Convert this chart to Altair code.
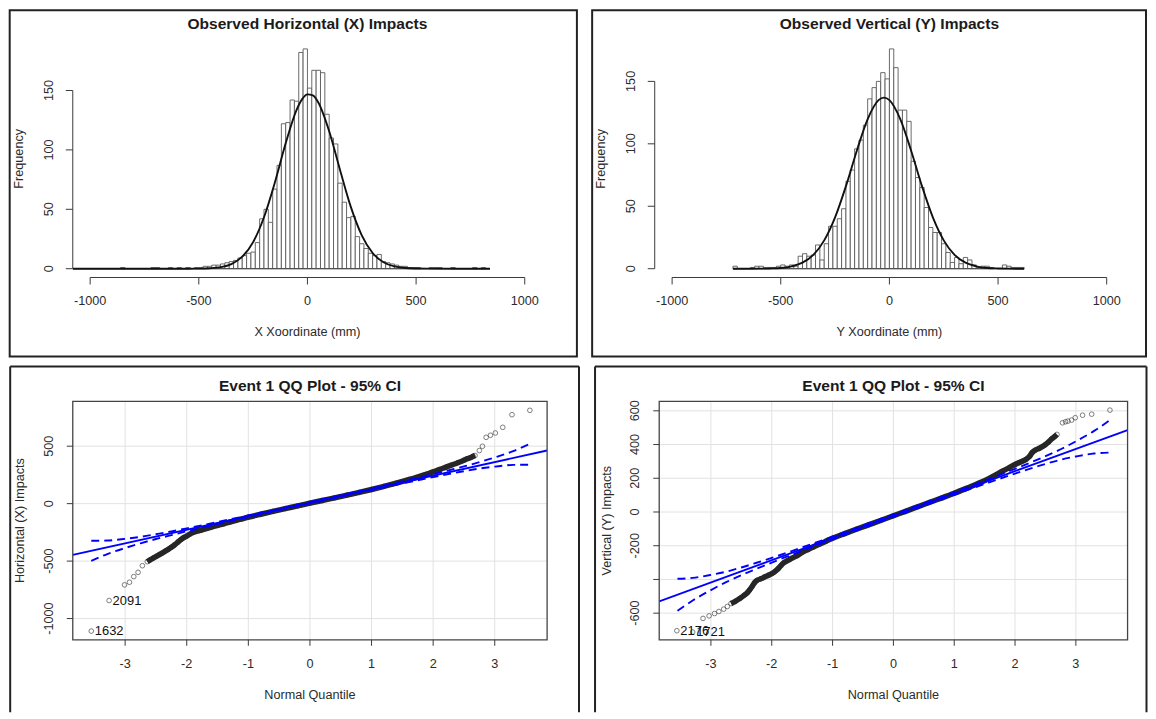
import altair as alt
import pandas as pd

FONT = "Liberation Sans"
INK = "#1b1b1b"
LAB = "#2b2b2b"
AX = "#3a3a3a"
GRID = "#e2e2e2"
BLUE = "#0000ff"

# ---------------- histogram data: 20 mm bins (bin start -> count) ----------------
x_bin_start = ([-1120, -860, -720, -700, -640, -600, -560, -520]
               + list(range(-500, 520, 20))
               + [560, 580, 600, 660, 760, 800])
x_count = ([1, 1, 1, 1, 1, 1, 1, 1]
           + [1, 2, 2, 3, 3, 4, 5, 6, 7, 9, 11, 13, 14, 22, 42, 50, 39, 67, 87,
              122, 123, 142, 141, 182, 185]
           + [152, 167, 167, 165, 130, 110, 105, 72, 56, 43, 44, 27, 21, 17, 13,
              11, 12, 6, 5, 4, 3, 2, 2, 1, 1, 1]
           + [1, 1, 1, 1, 1, 1])
x_range = [-1120, 840]

y_bin_start = ([-720, -640, -620, -600, -580, -560, -540, -520, -500, -480, -460]
               + list(range(-440, 480, 20))
               + [520, 540, 560, 580, 600])
y_count = ([2, 1, 2, 2, 1, 1, 1, 2, 3, 2, 3]
           + [2, 10, 12, 10, 11, 19, 7, 20, 34, 34, 40, 48, 70, 79, 96, 103, 115,
              136, 145, 150, 157, 152]
           + [176, 161, 127, 127, 118, 86, 73, 65, 49, 33, 29, 29, 20, 13, 5, 9, 4,
              9, 7, 3, 1, 2, 2, 1]
           + [3, 2, 1, 1, 1])
y_range = [-720, 620]
bin_width = 20

# fitted normal curves
x_curve_x = [-1080, -700, -550, -500, -450, -400, -350, -300, -250, -200, -150, -100,
             -50, -25, 0, 25, 50, 100, 150, 200, 250, 300, 350, 400, 450, 500, 550, 700, 840]
x_curve_y = [0, 0, 0.02, 0.1, 0.4, 1.3, 3.9, 10.1, 22.4, 43.3, 72.6, 105.7, 133.7, 142.5,
             146.7, 145.8, 139.9, 115.7, 83.1, 51.8, 28.1, 13.2, 5.4, 1.9, 0.6, 0.16, 0.03, 0, 0]
y_curve_x = [-720, -650, -600, -550, -500, -450, -400, -350, -300, -250, -200, -150, -100,
             -50, -25, 0, 50, 100, 150, 200, 250, 300, 350, 400, 450, 500, 550, 620]
y_curve_y = [0, 0, 0.05, 0.2, 0.6, 1.9, 4.8, 11.1, 22.7, 41.1, 66.1, 94.5, 119.8, 135.0,
             137.0, 135.0, 119.8, 94.5, 66.1, 41.1, 22.7, 11.1, 4.8, 1.9, 0.6, 0.2, 0.05, 0]

hist_xticks = [-1000, -500, 0, 500, 1000]
hist_xlabels = ["-1000", "-500", "0", "500", "1000"]
hist_yticks = [0, 50, 100, 150]
hist_ylabels = ["0", "50", "100", "150"]

# ---------------- QQ data ----------------
qq_xticks = [-3, -2, -1, 0, 1, 2, 3]
qq_xlabels = ["-3", "-2", "-1", "0", "1", "2", "3"]

qx_band_q = [-2.64, -2.60, -2.55, -2.50, -2.45, -2.40, -2.35, -2.30, -2.25, -2.20, -2.15,
             -2.10, -2.05, -2.00, -1.95, -1.90, -1.80, -1.70, -1.60, -1.50, -1.40, -1.30,
             -1.20, -1.10, -1.00, -0.80, -0.60, -0.40, -0.20, 0.00, 0.20, 0.40, 0.60, 0.80,
             1.00, 1.20, 1.40, 1.60, 1.80, 1.90, 2.00, 2.10, 2.20, 2.30, 2.40, 2.50, 2.55,
             2.60, 2.65, 2.68]
qx_band_v = [-505, -491, -476, -460, -445, -430, -414, -398, -380, -360, -338, -315, -296,
             -282, -266, -252, -235, -220, -205, -190, -175, -160, -146, -132, -118, -92,
             -67, -43, -20, 4, 27, 50, 74, 98, 123, 150, 178, 208, 240, 258, 276, 296, 316,
             336, 356, 378, 390, 399, 412, 419]
qx_out_q = [-3.55, -3.26, -3.01, -2.93, -2.86, -2.79, -2.72, 2.75, 2.80, 2.86, 2.93, 3.01,
            3.13, 3.28, 3.57]
qx_out_v = [-1109, -843, -707, -684, -635, -598, -540, 462, 499, 577, 595, 615, 664, 774, 812]
qx_lab_q = [-3.55, -3.26]
qx_lab_v = [-1109, -843]
qx_lab_t = ["1632", "2091"]
qx_fit_q = [-3.85, 3.85]
qx_fit_v = [-446, 462]
ci_q = [-3.55, -3.3, -3.0, -2.75, -2.5, -2.25, -2.0, -1.5, -1.0, 0, 1.0, 1.5, 2.0, 2.25,
        2.5, 2.75, 3.0, 3.3, 3.55]
qx_ci_up = [-323, -321, -306, -289, -266, -242, -215, -160, -103, 14, 133, 194, 257, 290,
            324, 361, 402, 457, 515]
qx_ci_lo = [-499, -441, -386, -345, -308, -274, -241, -178, -117, 2, 119, 176, 231, 258,
            282, 305, 322, 337, 339]
qx_yticks = [-1000, -500, 0, 500]
qx_ylabels = ["-1000", "-500", "0", "500"]

qy_band_q = [-2.67, -2.60, -2.52, -2.45, -2.40, -2.36, -2.32, -2.28, -2.24, -2.18, -2.12,
             -2.06, -2.00, -1.95, -1.90, -1.85, -1.80, -1.75, -1.70, -1.60, -1.50, -1.40,
             -1.30, -1.20, -1.10, -1.00, -0.80, -0.60, -0.40, -0.20, 0.00, 0.20, 0.40,
             0.60, 0.80, 1.00, 1.20, 1.40, 1.60, 1.80, 1.90, 2.00, 2.10, 2.18, 2.24, 2.28,
             2.33, 2.40, 2.49, 2.55, 2.60, 2.65, 2.69]
qy_band_v = [-543, -530, -512, -493, -478, -460, -440, -418, -405, -396, -386, -376, -366,
             -354, -338, -318, -300, -290, -280, -262, -240, -222, -205, -188, -172, -156,
             -128, -101, -75, -49, -22, 4, 31, 58, 84, 111, 140, 170, 204, 243, 262, 282,
             298, 312, 330, 352, 366, 378, 397, 415, 433, 447, 460]
qy_out_q = [-3.56, -3.30, -3.13, -3.03, -2.94, -2.87, -2.79, -2.73, 2.78, 2.83, 2.87, 2.93,
            2.99, 3.11, 3.26, 3.56]
qy_out_v = [-704, -712, -631, -616, -602, -590, -576, -560, 529, 535, 539, 545, 559, 574,
            580, 604]
qy_lab_q = [-3.56, -3.30]
qy_lab_v = [-704, -712]
qy_lab_t = ["2176", "1721"]
qy_fit_q = [-3.85, 3.85]
qy_fit_v = [-530, 486]
qy_ci_up = [-396, -391, -373, -354, -329, -301, -272, -210, -146, -15, 118, 186, 256, 293,
            331, 372, 419, 481, 542]
qy_ci_lo = [-586, -525, -463, -416, -375, -337, -300, -230, -162, -29, 102, 166, 228, 257,
            285, 310, 329, 347, 352]
qy_yticks = [-600, -400, -200, 0, 200, 400, 600]
qy_ylabels = ["-600", "", "-200", "0", "200", "400", "600"]   # R drops the -400 label


def one():
    return pd.DataFrame({"a": [0]})


def txt(s, x, y, size=12.7, bold=False, angle=0):
    kw = dict(font=FONT, fontSize=size, color=INK if bold else LAB, align="center",
              baseline="middle")
    if bold:
        kw["fontWeight"] = "bold"
    if angle:
        kw["angle"] = angle
    return alt.Chart(pd.DataFrame({"t": [s]})).mark_text(**kw).encode(
        text="t:N", x=alt.value(x), y=alt.value(y))


def x_axis(ticks, labels, xs, H, tick, lab_off):
    df = pd.DataFrame({"v": ticks, "t": labels})
    t = alt.Chart(df).mark_rule(color=AX, strokeWidth=1).encode(
        x=alt.X("v:Q", scale=xs, axis=None), y=alt.value(H), y2=alt.value(H + tick))
    l = alt.Chart(df).mark_text(font=FONT, fontSize=12.7, color=LAB, align="center",
                                baseline="middle").encode(
        x=alt.X("v:Q", scale=xs, axis=None), y=alt.value(H + lab_off), text="t:N")
    return [t, l]


def y_axis(ticks, labels, ys, tick, lab_off):
    df = pd.DataFrame({"v": ticks, "t": labels})
    t = alt.Chart(df).mark_rule(color=AX, strokeWidth=1).encode(
        y=alt.Y("v:Q", scale=ys, axis=None), x=alt.value(0), x2=alt.value(-tick))
    l = alt.Chart(df).mark_text(font=FONT, fontSize=12.7, color=LAB, align="center",
                                baseline="middle", angle=270).encode(
        y=alt.Y("v:Q", scale=ys, axis=None), x=alt.value(-lab_off), text="t:N")
    return [t, l]


def hist_panel(bins, counts, rng, cx, cy, title, xtitle, W, H, box):
    M = max(counts)
    xs = alt.Scale(domain=[-1080, 1080], nice=False, zero=False)
    ys = alt.Scale(domain=[-0.04 * M, 1.04 * M], nice=False, zero=False)
    df = pd.DataFrame({"lo": bins, "hi": [b + bin_width for b in bins], "n": counts,
                       "z": [0] * len(bins)})
    bars = alt.Chart(df).mark_rect(fill="white", stroke="#5a5a5a", strokeWidth=0.9,
                                   clip=True).encode(
        x=alt.X("lo:Q", scale=xs, axis=None), x2="hi:Q",
        y=alt.Y("n:Q", scale=ys, axis=None), y2="z:Q")
    base = alt.Chart(pd.DataFrame({"a": [rng[0]], "b": [rng[1]], "z": [0]})).mark_rule(
        color="#444", strokeWidth=1, clip=True).encode(
        x=alt.X("a:Q", scale=xs, axis=None), x2="b:Q", y=alt.Y("z:Q", scale=ys, axis=None))
    curve = alt.Chart(pd.DataFrame({"x": cx, "y": cy})).mark_line(
        color="#111", strokeWidth=1.9, interpolate="monotone", clip=True).encode(
        x=alt.X("x:Q", scale=xs, axis=None), y=alt.Y("y:Q", scale=ys, axis=None),
        order="x:Q")
    xline = alt.Chart(pd.DataFrame({"a": [hist_xticks[0]], "b": [hist_xticks[-1]]})).mark_rule(
        color=AX, strokeWidth=1).encode(
        x=alt.X("a:Q", scale=xs, axis=None), x2="b:Q", y=alt.value(H))
    yline = alt.Chart(pd.DataFrame({"a": [hist_yticks[0]], "b": [hist_yticks[-1]]})).mark_rule(
        color=AX, strokeWidth=1).encode(
        y=alt.Y("a:Q", scale=ys, axis=None), y2="b:Q", x=alt.value(0))
    x1, x2, y1, y2 = box
    border = alt.Chart(one()).mark_rect(fill="white", fillOpacity=0, stroke="#222",
                                        strokeWidth=2).encode(
        x=alt.value(x1), x2=alt.value(x2), y=alt.value(y1), y2=alt.value(y2))
    layers = [border, bars, base, curve, xline, yline]
    layers += x_axis(hist_xticks, hist_xlabels, xs, H, 7, 23.3)
    layers += y_axis(hist_yticks, hist_ylabels, ys, 7, 23.5)
    layers += [txt(title, W / 2, -15.8, 15.6, bold=True),
               txt(xtitle, W / 2, H + 55),
               txt("Frequency", -54, H / 2, angle=270)]
    return alt.layer(*layers).properties(width=W, height=H)


def qq_panel(band_q, band_v, out_q, out_v, lab_q, lab_v, lab_t, fit_q, fit_v, ci_up, ci_lo,
             xdom, ydom, yticks, ylabels, ytitle, W, H, box):
    xs = alt.Scale(domain=xdom, nice=False, zero=False)
    ys = alt.Scale(domain=ydom, nice=False, zero=False)
    gx = alt.Chart(pd.DataFrame({"v": qq_xticks})).mark_rule(color=GRID, strokeWidth=1).encode(
        x=alt.X("v:Q", scale=xs, axis=None), y=alt.value(0), y2=alt.value(H))
    gy = alt.Chart(pd.DataFrame({"v": yticks})).mark_rule(color=GRID, strokeWidth=1).encode(
        y=alt.Y("v:Q", scale=ys, axis=None), x=alt.value(0), x2=alt.value(W))
    pts = pd.DataFrame({"q": band_q + out_q, "v": band_v + out_v})
    points = alt.Chart(pts).mark_point(shape="circle", filled=False, size=22, color="#333",
                                       strokeWidth=0.9, clip=True).encode(
        x=alt.X("q:Q", scale=xs, axis=None), y=alt.Y("v:Q", scale=ys, axis=None))
    band = alt.Chart(pd.DataFrame({"q": band_q, "v": band_v})).mark_line(
        color="#262626", strokeWidth=5.5, interpolate="monotone", clip=True).encode(
        x=alt.X("q:Q", scale=xs, axis=None), y=alt.Y("v:Q", scale=ys, axis=None), order="q:Q")
    fit = alt.Chart(pd.DataFrame({"q": fit_q, "v": fit_v})).mark_line(
        color=BLUE, strokeWidth=1.9, clip=True).encode(
        x=alt.X("q:Q", scale=xs, axis=None), y=alt.Y("v:Q", scale=ys, axis=None))
    ci = pd.DataFrame({"q": ci_q + ci_q, "v": ci_up + ci_lo,
                       "side": ["up"] * len(ci_q) + ["lo"] * len(ci_q)})
    band_ci = alt.Chart(ci).mark_line(color=BLUE, strokeWidth=1.9, strokeDash=[8, 5],
                                      interpolate="monotone", clip=True).encode(
        x=alt.X("q:Q", scale=xs, axis=None), y=alt.Y("v:Q", scale=ys, axis=None),
        detail="side:N", order="q:Q")
    labels = alt.Chart(pd.DataFrame({"q": lab_q, "v": lab_v, "t": lab_t})).mark_text(
        font=FONT, fontSize=13, color="#111", align="left", baseline="middle", dx=3.5).encode(
        x=alt.X("q:Q", scale=xs, axis=None), y=alt.Y("v:Q", scale=ys, axis=None), text="t:N")
    frame = alt.Chart(one()).mark_rect(fill="white", fillOpacity=0, stroke="#444",
                                       strokeWidth=1.3).encode(
        x=alt.value(0), x2=alt.value(W), y=alt.value(0), y2=alt.value(H))
    x1, x2, y1, y2 = box
    edge = dict(color="#222", strokeWidth=2)
    top = alt.Chart(one()).mark_rule(**edge).encode(
        x=alt.value(x1), x2=alt.value(x2), y=alt.value(y1))
    left = alt.Chart(one()).mark_rule(**edge).encode(
        x=alt.value(x1), y=alt.value(y1), y2=alt.value(y2))
    right = alt.Chart(one()).mark_rule(**edge).encode(
        x=alt.value(x2), y=alt.value(y1), y2=alt.value(y2))
    layers = [top, left, right, gx, gy, points, band, fit, band_ci, labels, frame]
    layers += x_axis(qq_xticks, qq_xlabels, xs, H, 6, 24)
    layers += y_axis(yticks, ylabels, ys, 6, 24)
    layers += [txt("Event 1 QQ Plot - 95% CI", W / 2, -15, 15.6, bold=True),
               txt("Normal Quantile", W / 2, 295),
               txt(ytitle, -52.5, H / 2, angle=270)]
    return alt.layer(*layers).properties(width=W, height=H)


HW, HH = 471, 238.2
h1 = hist_panel(x_bin_start, x_count, x_range, x_curve_x, x_curve_y,
                "Observed Horizontal (X) Impacts", "X Xoordinate (mm)", HW, HH,
                (-63.3, 505.9, -30, 317.5))
h2 = hist_panel(y_bin_start, y_count, y_range, y_curve_x, y_curve_y,
                "Observed Vertical (Y) Impacts", "Y Xoordinate (mm)", HW, HH,
                (-62.8, 493, -30, 317.5))

QH = 239.3
q1 = qq_panel(qx_band_q, qx_band_v, qx_out_q, qx_out_v, qx_lab_q, qx_lab_v, qx_lab_t,
              qx_fit_q, qx_fit_v, qx_ci_up, qx_ci_lo, [-3.85, 3.85], [-1185, 890],
              qx_yticks, qx_ylabels, "Horizontal (X) Impacts", 476, QH,
              (-62.8, 508, -35, 312))
q2 = qq_panel(qy_band_q, qy_band_v, qy_out_q, qy_out_v, qy_lab_q, qy_lab_v, qy_lab_t,
              qy_fit_q, qy_fit_v, qy_ci_up, qy_ci_lo, [-3.85, 3.85], [-758, 656],
              qy_yticks, qy_ylabels, "Vertical (Y) Impacts", 470, QH,
              (-64.4, 489, -35, 312))

top_row = alt.hconcat(h1, h2, spacing=13)
bottom_row = alt.hconcat(q1, q2, spacing=13.5)
chart = alt.vconcat(top_row, bottom_row, spacing=7.5).properties(
    padding=0, background="white"
).configure(font=FONT).configure_view(strokeWidth=0)

chart.save("out.html", embed_options={"renderer": "svg", "actions": False})
